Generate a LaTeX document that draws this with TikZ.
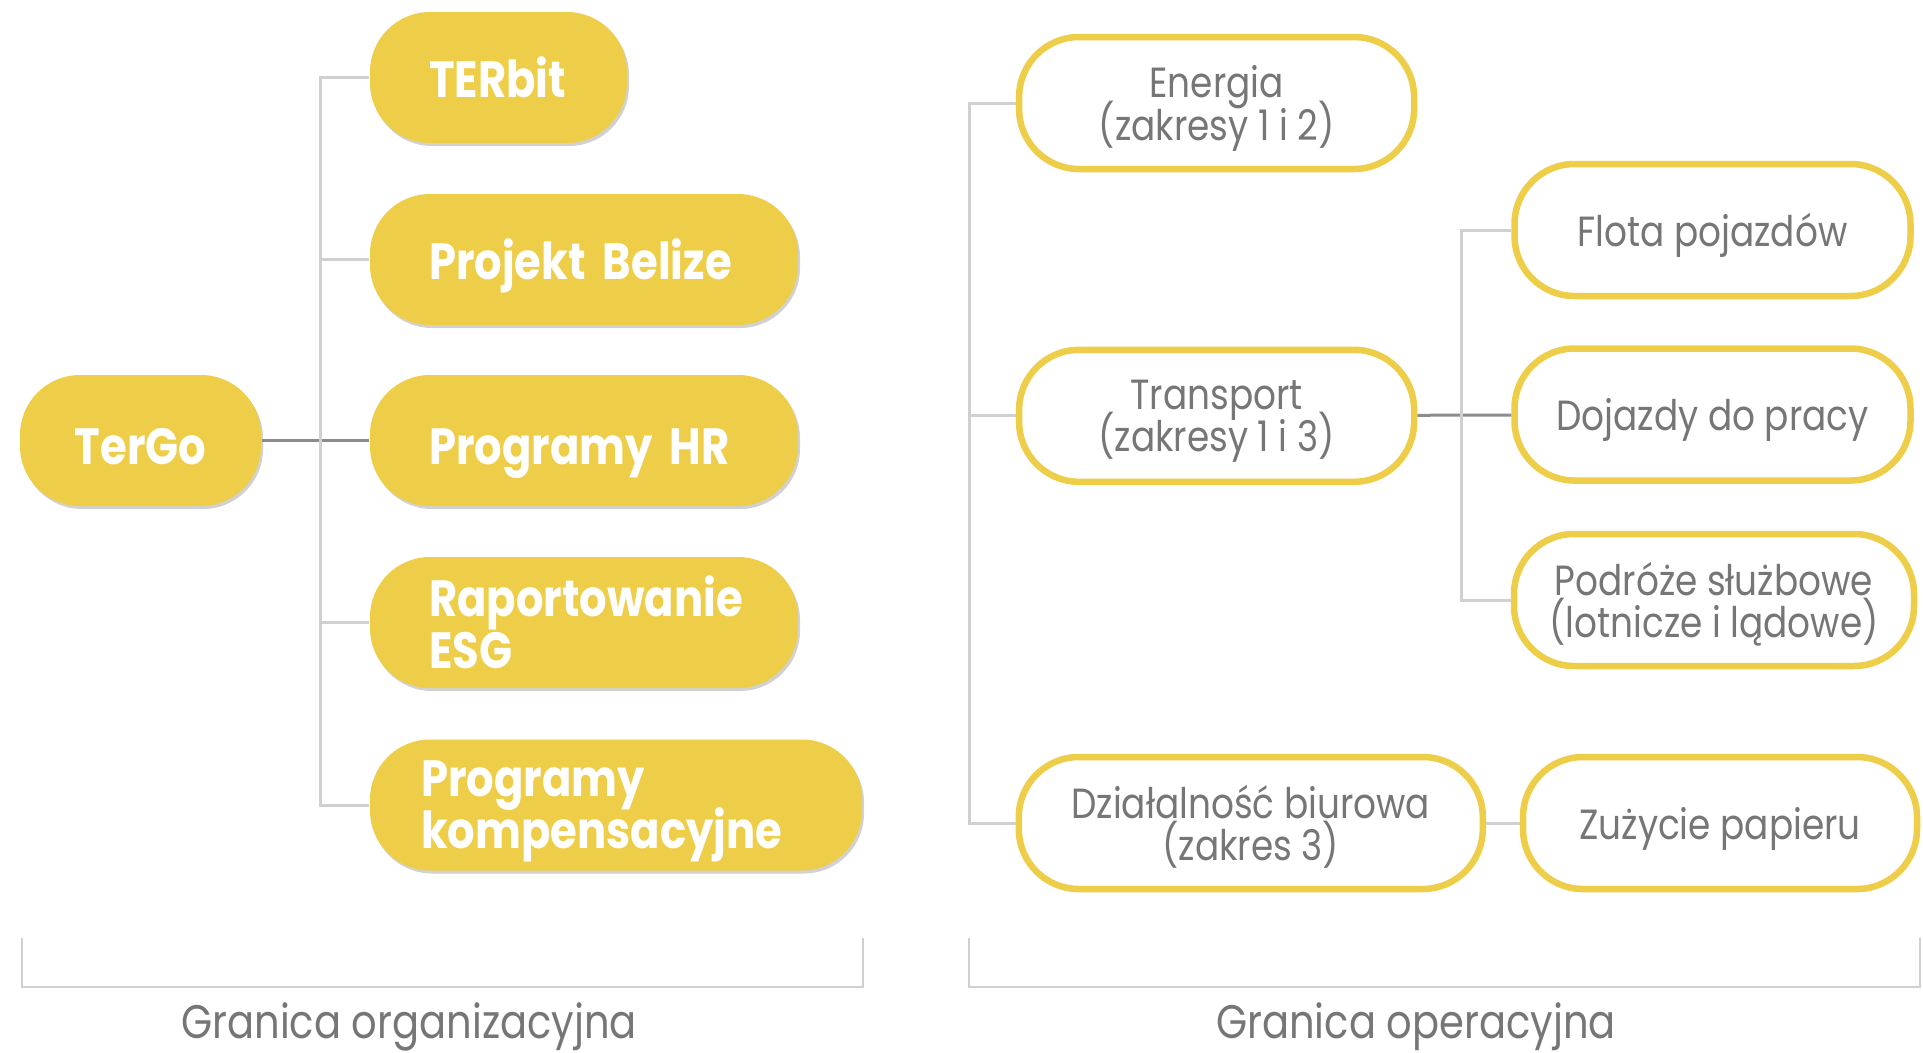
\documentclass[tikz,border=0pt]{standalone}
\usepackage{fontspec}
\setmainfont[FakeStretch=0.85]{Poppins}
\usepackage{xcolor}
\usepackage{tikz}
\usetikzlibrary{positioning,shadows}

\definecolor{tgyellow}{RGB}{238,205,72}
\definecolor{tggray}{RGB}{118,118,118}
\definecolor{tgline}{RGB}{208,208,208}
\definecolor{tgdark}{RGB}{140,140,140}

\newcommand\orgfont{\fontsize{14.5}{14.6}\selectfont\bfseries\lineskiplimit=-\maxdimen}
\newcommand\opfont{\fontsize{12}{12}\selectfont\lineskiplimit=-\maxdimen}

\tikzset{
  orgbox/.style={fill=tgyellow, rounded corners=6mm, text=white, font=\orgfont,
    align=left, minimum height=13.1mm, inner xsep=5.9mm, inner ysep=0pt, text depth=0pt,
    drop shadow={shadow xshift=0.2mm, shadow yshift=-0.3mm, fill=black, opacity=0.18}},
  twoline/.style={text depth=14.8pt},
  lowtext/.style={text height=13.5pt},
  opbox/.style={draw=tgyellow, line width=0.65mm, fill=white, rounded corners=6mm,
    text=tggray, font=\opfont, align=center, minimum height=13.2mm, inner sep=0pt,
    text depth=0pt},
  conn/.style={tgline, line width=0.3mm},
  mainconn/.style={tgdark, line width=0.3mm},
  bracket/.style={tgline, line width=0.25mm},
  lbl/.style={text=tggray, font=\fontsize{13.4}{14}\selectfont, anchor=base, inner sep=0pt}
}

\begin{document}
\begin{tikzpicture}[x=0.1mm, y=-0.1mm]
\useasboundingbox (0,0) rectangle (1923,1052);

% Organisation boundary
\node[orgbox, lowtext, align=center, inner xsep=2mm, minimum width=24.1mm] (tergo) at (140.5,440.5) {TerGo};
\node[orgbox, text width=13.9mm] (terbit) at (498.5,77.5) {TERbit};
\node[orgbox, text width=31mm] (belize) at (584,259.5) {Projekt~Belize};
\node[orgbox, lowtext, text width=31mm] (prghr) at (584,440.5) {Programy~HR};
\node[orgbox, twoline, text width=31mm] (esg) at (584,622.5) {Raportowanie\\ESG};
\node[orgbox, twoline, text width=39mm, inner xsep=5.1mm] (kompens) at (616,805) {Programy\\kompensacyjne};

\draw[mainconn] (tergo) -- (prghr);
\draw[conn] (terbit.west) -- ++(-49,0) |- (kompens.west);
\foreach \n in {belize,esg}
    \draw[conn] (\n.west) -- ++(-49,0);

% Operational boundary
\node[opbox, minimum width=39.5mm] (energia) at (1216.6,103) {Energia\\(zakresy 1 i 2)};
\node[opbox, minimum width=39.5mm] (transport) at (1216.6,415.8) {Transport\\(zakresy 1 i 3)};
\node[opbox, minimum width=46.4mm] (biuro) at (1250.8,823) {Działalność biurowa\\(zakres 3)};
\node[opbox, minimum width=39.6mm] (flota) at (1712.5,230) {Flota pojazdów};
\node[opbox, minimum width=39.6mm] (dojazdy) at (1712.5,414.5) {Dojazdy do pracy};
\node[opbox, minimum width=40mm] (podroze) at (1714,600) {Podróże służbowe\\(lotnicze i lądowe)};
\node[opbox, minimum width=39.4mm] (zuzycie) at (1720,823) {Zużycie papieru};

\draw[conn] (energia.west) -- ++(-46,0) |- (biuro.west);
\draw[conn] (transport.west) -- ++(-46,0);
\draw[mainconn] (transport) -- (dojazdy);
\draw[conn] (flota.west) -- ++(-50,0) |- (podroze.west);
\draw[conn] (biuro) -- (zuzycie);

% Brackets
\draw[bracket] (22,938) -- (22,987) -- (863,987) -- (863,938);
\draw[bracket] (969,938) -- (969,987) -- (1920,987) -- (1920,938);
\node[lbl] (orglbl) at (409,1038) {Granica organizacyjna};
\node[lbl] (oplbl) at (1416,1038) {Granica operacyjna};
\end{tikzpicture}
\end{document}
